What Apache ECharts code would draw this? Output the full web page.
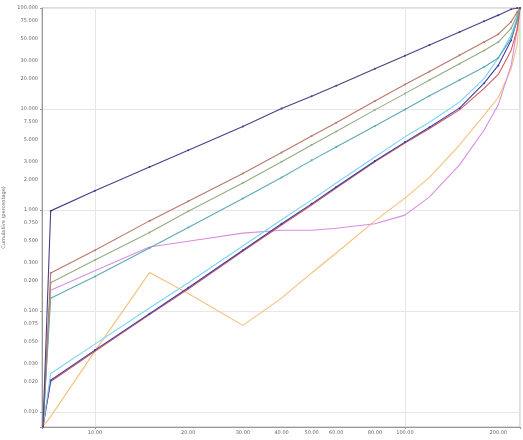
<!DOCTYPE html>
<html>
<head>
<meta charset="utf-8">
<script src="https://cdn.jsdelivr.net/npm/echarts@6/dist/echarts.min.js"></script>
<style>html,body{margin:0;padding:0;background:#fff}#c{width:523px;height:440px}</style>
</head>
<body>
<div id="c"></div>
<script>
// x sample positions (size)
const xValues = [6.8, 7.2, 10, 15, 20, 30, 40, 50, 60, 80, 100, 120, 150, 180, 200, 220, 230, 235];
// series values (cumulative)
const seriesNames = ['S1', 'S2', 'S3', 'S4', 'S5', 'S6', 'S7', 'S8', 'S9'];
const s1Dark   = [0.0072, 0.98, 1.55, 2.67, 3.9, 6.7, 10.1, 13.4, 17, 25, 33.7, 43, 58, 74, 85, 97, 100, 100];
const s2Brown  = [0.0072, 0.238, 0.40, 0.78, 1.22, 2.3, 3.7, 5.4, 7.3, 12, 17.5, 23.5, 34, 46, 55, 73, 91, 100];
const s3Olive  = [0.0072, 0.19, 0.32, 0.60, 0.97, 1.85, 3.0, 4.4, 6.0, 9.8, 14.2, 19.4, 28, 38, 46, 63, 85, 100];
const s4Teal   = [0.0072, 0.134, 0.22, 0.42, 0.67, 1.3, 2.1, 3.1, 4.2, 6.8, 9.9, 13.5, 19.4, 26, 32, 50, 76, 100];
const s5Cyan   = [0.0072, 0.024, 0.047, 0.107, 0.19, 0.44, 0.80, 1.26, 1.85, 3.35, 5.3, 7.4, 11.7, 20, 32, 54, 80, 100];
const s6Blue   = [0.0072, 0.0206, 0.041, 0.094, 0.17, 0.40, 0.73, 1.15, 1.69, 3.06, 4.7, 6.6, 10.2, 18, 27, 48, 76, 100];
const s7Red    = [0.0072, 0.0200, 0.040, 0.092, 0.165, 0.39, 0.71, 1.12, 1.65, 3.0, 4.6, 6.4, 9.8, 16, 22, 38, 61, 100];
const s8Pink   = [0.0072, 0.16, 0.25, 0.43, 0.49, 0.59, 0.63, 0.63, 0.66, 0.73, 0.89, 1.35, 2.8, 6.2, 11, 27, 61, 100];
const s9Orange = [0.0072, 0.009, 0.040, 0.24, 0.149, 0.072, 0.134, 0.238, 0.375, 0.78, 1.31, 2.1, 4.4, 8.7, 13, 25, 43, 100];
// tick labels
const xTickValues = [10, 20, 30, 40, 50, 60, 80, 100, 200];
const yTickValues = [0.01, 0.02, 0.03, 0.05, 0.075, 0.1, 0.2, 0.3, 0.5, 0.75, 1, 2, 3, 5, 7.5, 10, 20, 30, 50, 75, 100];
const xTitle = 'Size (µm)';
const yTitle = 'Cumulative (percentage)';

const allSeries = [s1Dark, s2Brown, s3Olive, s4Teal, s5Cyan, s6Blue, s7Red, s8Pink, s9Orange];
const colors = ['#4a3f86', '#b9786a', '#93ad80', '#5eaab4', '#7fd4ec', '#3b3fa8', '#d8585c', '#d98ee0', '#f6bf7a'];
const showSym = [true, true, true, true, false, true, false, false, false];

const chart = echarts.init(document.getElementById('c'), null, {renderer: 'canvas'});
chart.setOption({
  animation: false,
  backgroundColor: '#ffffff',
  color: colors,
  grid: {left: 42, right: 3, top: 8, bottom: 13, show: true, borderColor: '#b8b8b8', borderWidth: 1,
    outerBoundsMode: 'none', containLabel: false},
  xAxis: {
    type: 'log', min: 6.75, max: 235, logBase: 10,
    name: xTitle, nameLocation: 'middle', nameGap: 8,
    nameTextStyle: {fontSize: 5, color: '#666', fontFamily: 'DejaVu Sans'},
    axisLine: {show: true, lineStyle: {color: '#999'}},
    axisTick: {show: true, length: 2, lineStyle: {color: '#999'}},
    axisLabel: {customValues: xTickValues, fontSize: 5, color: '#666', margin: 3, fontFamily: 'DejaVu Sans',
      formatter: v => Number(v).toFixed(2)},
    splitLine: {show: true, lineStyle: {color: '#e6e6e6', width: 1}}
  },
  yAxis: {
    type: 'log', min: 0.0071, max: 100, logBase: 10,
    name: yTitle, nameLocation: 'middle', nameGap: 31, nameRotate: 90,
    nameTextStyle: {fontSize: 5, color: '#666', fontFamily: 'DejaVu Sans'},
    axisLine: {show: true, lineStyle: {color: '#999'}},
    axisTick: {show: true, length: 2, lineStyle: {color: '#999'}},
    axisLabel: {customValues: yTickValues, fontSize: 5, color: '#666', margin: 4, fontFamily: 'DejaVu Sans',
      formatter: v => Number(v).toFixed(3)},
    splitLine: {show: true, lineStyle: {color: '#e6e6e6', width: 1}}
  },
  series: allSeries.map((vals, i) => ({
    name: seriesNames[i],
    type: 'line',
    data: vals.map((v, j) => [xValues[j], v]),
    showSymbol: showSym[i],
    symbol: 'circle',
    symbolSize: 2,
    lineStyle: {width: 1.1, color: colors[i]},
    itemStyle: {color: colors[i]},
    z: 10 - i
  }))
});
</script>
</body>
</html>
